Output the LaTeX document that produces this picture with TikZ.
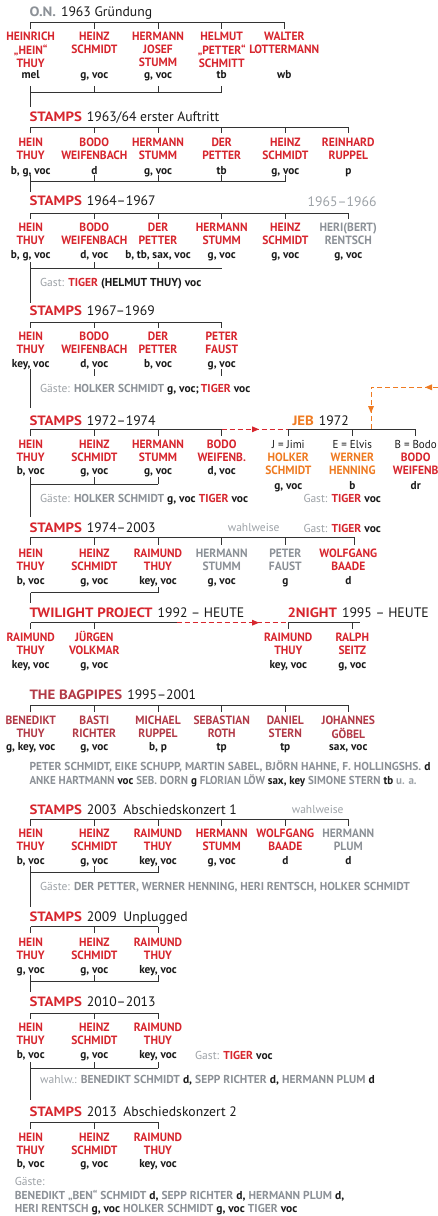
\documentclass[tikz,border=0pt]{standalone}
\usepackage{fontspec}
\setmainfont{PT Sans}
\newfontfamily\tfont{PT Sans}[FakeStretch=1.1]
\newfontfamily\nmfont{PT Sans}[FakeStretch=0.96]
\newfontfamily\insfont{PT Sans}[FakeStretch=0.98]
\newfontfamily\pnarrow{PT Sans}[FakeStretch=0.955]
\usetikzlibrary{arrows.meta}
\definecolor{rd}{HTML}{D7262E}
\definecolor{gy}{HTML}{8C9197}
\definecolor{lg}{HTML}{9EA3A8}
\definecolor{og}{HTML}{EF7B22}
\definecolor{mr}{HTML}{B23A47}
\definecolor{tx}{HTML}{1A1A1A}
\definecolor{lc}{HTML}{333333}
\newcommand\Rb[1]{{\bfseries\color{rd}#1}}
\newcommand\Gb[1]{{\bfseries\color{gy}#1}}
\newcommand\Kb[1]{{\bfseries\color{tx}#1}}
\newcommand\Lr[1]{{\mdseries\color{lg}#1}}
\newcommand\Tt[2]{{\tfont\fontsize{13.5}{15}\selectfont\bfseries\color{#1}#2}\hspace{5pt}}
\newcommand\Yr[1]{{\color{tx}#1}}
\newcommand\Jx[1]{{\fontsize{11.5}{13}\selectfont\mdseries\color{tx}#1}}
\tikzset{
  ln/.style={draw=lc, line width=1pt},
  nm/.style={inner sep=0pt, font=\nmfont\fontsize{12}{13}\selectfont\bfseries, anchor=base},
  ins/.style={inner sep=0pt, font=\insfont\fontsize{11.5}{13}\selectfont\bfseries, text=tx, anchor=base},
  ttl/.style={inner sep=0pt, anchor=base west, font=\fontsize{13.7}{15}\selectfont},
  note/.style={inner sep=0pt, anchor=base west, font=\fontsize{11.5}{13}\selectfont, text=tx},
  dsh/.style={dashed, dash pattern=on 5pt off 3pt, line width=1pt},
}
\newcommand\mem[7]{%
  \node[nm,text=#4] (#1) at (#2,#3) {\begin{tabular}[t]{@{}c@{}}#5\end{tabular}};
  \node[ins] (#1i) at (#2,#6) {#7};}
\newcommand\brk[5]{%
  \draw[ln] (#3,#1) -- (#4,#1);
  \foreach \xx in {#5} {\draw[ln] (\xx,#1) -- (\xx,#2);}}
\begin{document}
\begin{tikzpicture}[x=1pt,y=-1pt]
\useasboundingbox[fill=white] (0,0) rectangle (438,1216);
% ---------- 1: O.N.
\node[ttl] (t1) at (29.3,16) {\Tt{gy}{O.N.}\Yr{1963 Gründung}};
\mem{a1}{30.7}{40.6}{rd}{HEINRICH\\„HEIN“\\THUY}{78.7}{mel}
\mem{a2}{94.3}{40.6}{rd}{HEINZ\\SCHMIDT}{78.7}{g, voc}
\mem{a3}{158}{40.6}{rd}{HERMANN\\JOSEF\\STUMM}{78.7}{g, voc}
\mem{a4}{221.7}{40.6}{rd}{HELMUT\\„PETTER“\\SCHMITT}{78.7}{tb}
\mem{a5}{284.3}{40.6}{rd}{WALTER\\LOTTERMANN}{78.7}{wb}
\brk{22}{29}{30.7}{284.3}{30.7,94.3,158,221.7,284.3}
\brk{92.3}{86}{30.7}{221.7}{30.7,94.3,158,221.7}
\draw[ln] (30.7,92.3) -- (30.7,106.7);
% ---------- 2
\node[ttl] (t2) at (29.3,121.7) {\Tt{rd}{STAMPS}\Yr{1963/64 erster Auftritt}};
\mem{b1}{30.7}{146.6}{rd}{HEIN\\THUY}{174}{b, g, voc}
\mem{b2}{94.3}{146.6}{rd}{BODO\\WEIFENBACH}{174}{d}
\mem{b3}{158}{146.6}{rd}{HERMANN\\STUMM}{174}{g, voc}
\mem{b4}{221.7}{146.6}{rd}{DER\\PETTER}{174}{tb}
\mem{b5}{285.3}{146.6}{rd}{HEINZ\\SCHMIDT}{174}{g, voc}
\mem{b6}{348.3}{146.6}{rd}{REINHARD\\RUPPEL}{174}{p}
\brk{127.3}{133.3}{30.7}{348.3}{30.7,94.3,158,221.7,285.3,348.3}
\brk{181.7}{175}{30.7}{285.3}{30.7,94.3,158,221.7,285.3}
\draw[ln] (30.7,181.7) -- (30.7,192);
% ---------- 3
\node[ttl] (t3) at (29.3,205.7) {\Tt{rd}{STAMPS}\Yr{1964–1967}};
\node[ttl, anchor=base east, text=lg] (t3b) at (376.7,206) {1965–1966};
\mem{c1}{30.7}{231.6}{rd}{HEIN\\THUY}{258.7}{b, g, voc}
\mem{c2}{94.3}{231.6}{rd}{BODO\\WEIFENBACH}{258.7}{d, voc}
\mem{c3}{158}{231.6}{rd}{DER\\PETTER}{258.7}{b, tb, sax, voc}
\mem{c4}{221.7}{231.6}{rd}{HERMANN\\STUMM}{258.7}{g, voc}
\mem{c5}{285.3}{231.6}{rd}{HEINZ\\SCHMIDT}{258.7}{g, voc}
\mem{c6}{348.3}{231.6}{gy}{HERI(BERT)\\RENTSCH}{258.7}{g, voc}
\brk{213.3}{219.3}{30.7}{348.3}{30.7,94.3,158,221.7,285.3,348.3}
\brk{268.3}{261.7}{30.7}{221.7}{30.7,94.3,158}
\node[note] (n3) at (40,286) {\Lr{Gast: }\Rb{TIGER} \Kb{(HELMUT THUY) voc}};
\draw[ln] (30.7,268.3) -- (30.7,303);
% ---------- 4
\node[ttl] (t4) at (29.3,315.7) {\Tt{rd}{STAMPS}\Yr{1967–1969}};
\mem{d1}{30.7}{340}{rd}{HEIN\\THUY}{367.3}{key, voc}
\mem{d2}{94.3}{340}{rd}{BODO\\WEIFENBACH}{367.3}{d, voc}
\mem{d3}{158}{340}{rd}{DER\\PETTER}{367.3}{b, voc}
\mem{d4}{221.7}{340}{rd}{PETER\\FAUST}{367.3}{g, voc}
\brk{322}{328.3}{30.7}{221.7}{30.7,94.3,158,221.7}
\draw[ln] (94.3,369.3) -- (94.3,376);
\draw[ln] (221.7,369.3) -- (221.7,376);
\draw[ln] (30.7,369.3) -- (30.7,408);
\node[note] (n4) at (40,392) {\Lr{Gäste: }\Gb{HOLKER SCHMIDT} \Kb{g, voc;}\,\Rb{TIGER} \Kb{voc}};
% orange arrow into JEB
\coordinate (oin) at (438,387.3);
\coordinate (ojeb) at (371,429.3);
\draw[og, dsh] (oin) -| (ojeb);
\fill[og] (425,387.3) -- (432,384.3) -- (432,390.3) -- cycle;
\fill[og] (371,413) -- (368,406) -- (374,406) -- cycle;
% ---------- 5
\node[ttl] (t5) at (29.3,425) {\Tt{rd}{STAMPS}\Yr{1972–1974}};
\node[ttl] (t5b) at (292.3,425) {\Tt{og}{JEB}\Yr{1972}};
\mem{e1}{30.7}{448.3}{rd}{HEIN\\THUY}{474.7}{b, voc}
\mem{e2}{94.3}{448.3}{rd}{HEINZ\\SCHMIDT}{474.7}{g, voc}
\mem{e3}{158}{448.3}{rd}{HERMANN\\STUMM}{474.7}{g, voc}
\mem{e4}{221.7}{448.3}{rd}{BODO\\WEIFENB.}{474.7}{d, voc}
\mem{j1}{288.3}{448.3}{og}{\Jx{J = Jimi}\\HOLKER\\SCHMIDT}{489.5}{g, voc}
\mem{j2}{352.3}{448.3}{og}{\Jx{E = Elvis}\\WERNER\\HENNING}{489.5}{b}
\mem{j3}{415.7}{448.3}{rd}{\Jx{B = Bodo}\\BODO\\WEIFENB}{489.5}{dr}
\brk{429.3}{436}{30.7}{221.7}{30.7,94.3,158,221.7}
\draw[rd, dsh] (221.7,429.3) -- (288.3,429.3);
\fill[rd] (259,429.3) -- (252,426.3) -- (252,432.3) -- cycle;
\brk{429.3}{436}{288.3}{415.7}{288.3,352.3,415.7}
\brk{484.3}{477}{30.7}{158}{30.7,94.3,158}
\draw[ln] (30.7,484.3) -- (30.7,516.7);
\node[note] (n5) at (40,502) {\Lr{Gäste: }\Gb{HOLKER SCHMIDT} \Kb{g, voc} \Rb{TIGER} \Kb{voc}};
\node[note] (n5b) at (303.3,502) {\Lr{Gast: }\Rb{TIGER} \Kb{voc}};
% ---------- 6
\node[ttl] (t6) at (29.3,532) {\Tt{rd}{STAMPS}\Yr{1974–2003}};
\node[note, anchor=base, text=lg] (w6) at (253.7,531) {wahlweise};
\node[note] (n6) at (303.3,532) {\Lr{Gast: }\Rb{TIGER} \Kb{voc}};
\mem{f1}{30.7}{557.6}{rd}{HEIN\\THUY}{584}{b, voc}
\mem{f2}{94.3}{557.6}{rd}{HEINZ\\SCHMIDT}{584}{g, voc}
\mem{f3}{158}{557.6}{rd}{RAIMUND\\THUY}{584}{key, voc}
\mem{f4}{221.7}{557.6}{gy}{HERMANN\\STUMM}{584}{g, voc}
\mem{f5}{285.3}{557.6}{gy}{PETER\\FAUST}{584}{g}
\mem{f6}{348.3}{557.6}{rd}{WOLFGANG\\BAADE}{584}{d}
\brk{537.3}{545}{30.7}{354.3}{30.7,94.3,158,221.7,285.3,354.3}
\brk{592.7}{586.7}{30.7}{158}{158}
\draw[ln] (30.7,592.7) -- (30.7,603);
% ---------- 7
\node[ttl] (t7) at (29.3,617.5) {\Tt{rd}{TWILIGHT PROJECT}\Yr{1992 – HEUTE}};
\node[ttl] (t7b) at (287.3,617.5) {\Tt{rd}{2NIGHT}\Yr{1995 – HEUTE}};
\mem{g1}{30.7}{641.6}{rd}{RAIMUND\\THUY}{668}{key, voc}
\mem{g2}{94.3}{641.6}{rd}{JÜRGEN\\VOLKMAR}{668}{g, voc}
\mem{g3}{288.3}{641.6}{rd}{RAIMUND\\THUY}{668}{key, voc}
\mem{g4}{352.3}{641.6}{rd}{RALPH\\SEITZ}{668}{g, voc}
\brk{622.7}{629.3}{30.7}{176.7}{30.7,94.3}
\draw[rd, dsh] (176.7,622.7) -- (288.3,622.7);
\fill[rd] (259,622.7) -- (252,619.7) -- (252,625.7) -- cycle;
\brk{622.7}{629.3}{288.3}{360}{288.3,352.3}
% ---------- 8
\node[ttl] (t8) at (29.3,699.3) {\Tt{mr}{THE BAGPIPES}\Yr{1995–2001}};
\mem{h1}{30.7}{724.3}{mr}{BENEDIKT\\THUY}{750.7}{g, key, voc}
\mem{h2}{94.3}{724.3}{mr}{BASTI\\RICHTER}{750.7}{g, voc}
\mem{h3}{158}{724.3}{mr}{MICHAEL\\RUPPEL}{750.7}{b, p}
\mem{h4}{221.7}{724.3}{mr}{SEBASTIAN\\ROTH}{750.7}{tp}
\mem{h5}{285.3}{724.3}{mr}{DANIEL\\STERN}{750.7}{tp}
\mem{h6}{348.3}{724.3}{mr}{JOHANNES\\GÖBEL}{750.7}{sax, voc}
\brk{705}{711.7}{30.7}{348.3}{30.7,94.3,158,221.7,285.3,348.3}
\node[note] (n8a) at (29.3,770) {\Gb{PETER SCHMIDT, EIKE SCHUPP, MARTIN SABEL, BJÖRN HAHNE, F. HOLLINGSHS.} \Kb{d}};
\node[note, font=\pnarrow\fontsize{11.5}{13}\selectfont] (n8b) at (29.3,784.3) {\Gb{ANKE HARTMANN} \Kb{voc} \Gb{SEB. DORN} \Kb{g} \Gb{FLORIAN LÖW} \Kb{sax, key} \Gb{SIMONE STERN} \Kb{tb} {\bfseries\color{lg}u. a.}};
% ---------- 9
\node[ttl] (t9) at (29.3,814) {\Tt{rd}{STAMPS}\Yr{2003\hspace{3pt} Abschiedskonzert 1}};
\node[note, anchor=base, text=lg] (w9) at (317.7,813) {wahlweise};
\mem{i1}{30.7}{837.6}{rd}{HEIN\\THUY}{864.7}{b, voc}
\mem{i2}{94.3}{837.6}{rd}{HEINZ\\SCHMIDT}{864.7}{g, voc}
\mem{i3}{158}{837.6}{rd}{RAIMUND\\THUY}{864.7}{key, voc}
\mem{i4}{221.7}{837.6}{rd}{HERMANN\\STUMM}{864.7}{g, voc}
\mem{i5}{285.3}{837.6}{rd}{WOLFGANG\\BAADE}{864.7}{d}
\mem{i6}{348.3}{837.6}{gy}{HERMANN\\PLUM}{864.7}{d}
\brk{819.3}{826}{30.7}{348.3}{30.7,94.3,158,221.7,285.3,348.3}
\brk{872.7}{866}{30.7}{158}{30.7,94.3,158}
\node[note] (n9) at (40,890.3) {\Lr{Gäste: }\Gb{DER PETTER, WERNER HENNING, HERI RENTSCH, HOLKER SCHMIDT}};
\draw[ln] (30.7,872.7) -- (30.7,906.7);
% ---------- 10
\node[ttl] (t10) at (29.3,921.7) {\Tt{rd}{STAMPS}\Yr{2009\hspace{3pt} Unplugged}};
\mem{k1}{30.7}{946.6}{rd}{HEIN\\THUY}{973}{g, voc}
\mem{k2}{94.3}{946.6}{rd}{HEINZ\\SCHMIDT}{973}{g, voc}
\mem{k3}{158}{946.6}{rd}{RAIMUND\\THUY}{973}{key, voc}
\brk{926.7}{933.3}{30.7}{158}{30.7,94.3,158}
\brk{981.7}{975}{30.7}{158}{30.7,94.3,158}
\draw[ln] (30.7,981.7) -- (30.7,991.7);
% ---------- 11
\node[ttl] (t11) at (29.3,1006.5) {\Tt{rd}{STAMPS}\Yr{2010–2013}};
\mem{l1}{30.7}{1031.6}{rd}{HEIN\\THUY}{1058.7}{b, voc}
\mem{l2}{94.3}{1031.6}{rd}{HEINZ\\SCHMIDT}{1058.7}{g, voc}
\mem{l3}{158}{1031.6}{rd}{RAIMUND\\THUY}{1058.7}{key, voc}
\node[note] (n11a) at (195,1059) {\Lr{Gast: }\Rb{TIGER} \Kb{voc}};
\brk{1013.3}{1019.3}{30.7}{158}{30.7,94.3,158}
\brk{1068.3}{1061.7}{30.7}{158}{30.7,94.3,158}
\node[note] (n11b) at (40,1083.3) {\Lr{wahlw.: }\Gb{BENEDIKT SCHMIDT} \Kb{d,} \Gb{SEPP RICHTER} \Kb{d,} \Gb{HERMANN PLUM} \Kb{d}};
\draw[ln] (30.7,1068.3) -- (30.7,1100);
% ---------- 12
\node[ttl] (t12) at (29.3,1116.3) {\Tt{rd}{STAMPS}\Yr{2013\hspace{3pt} Abschiedskonzert 2}};
\mem{m1}{30.7}{1141.3}{rd}{HEIN\\THUY}{1167.7}{b, voc}
\mem{m2}{94.3}{1141.3}{rd}{HEINZ\\SCHMIDT}{1167.7}{g, voc}
\mem{m3}{158}{1141.3}{rd}{RAIMUND\\THUY}{1167.7}{key, voc}
\brk{1122}{1128.7}{30.7}{158}{30.7,94.3,158}
\node[note] (n12a) at (14.7,1185) {\Lr{Gäste:}};
\node[note] (n12b) at (14.7,1199.7) {\Gb{BENEDIKT „BEN“ SCHMIDT} \Kb{d,} \Gb{SEPP RICHTER} \Kb{d,} \Gb{HERMANN PLUM} \Kb{d,}};
\node[note] (n12c) at (14.7,1212.3) {\Gb{HERI RENTSCH} \Kb{g, voc} \Gb{HOLKER SCHMIDT} \Kb{g, voc} \Gb{TIGER} \Kb{voc}};
\end{tikzpicture}
\end{document}
